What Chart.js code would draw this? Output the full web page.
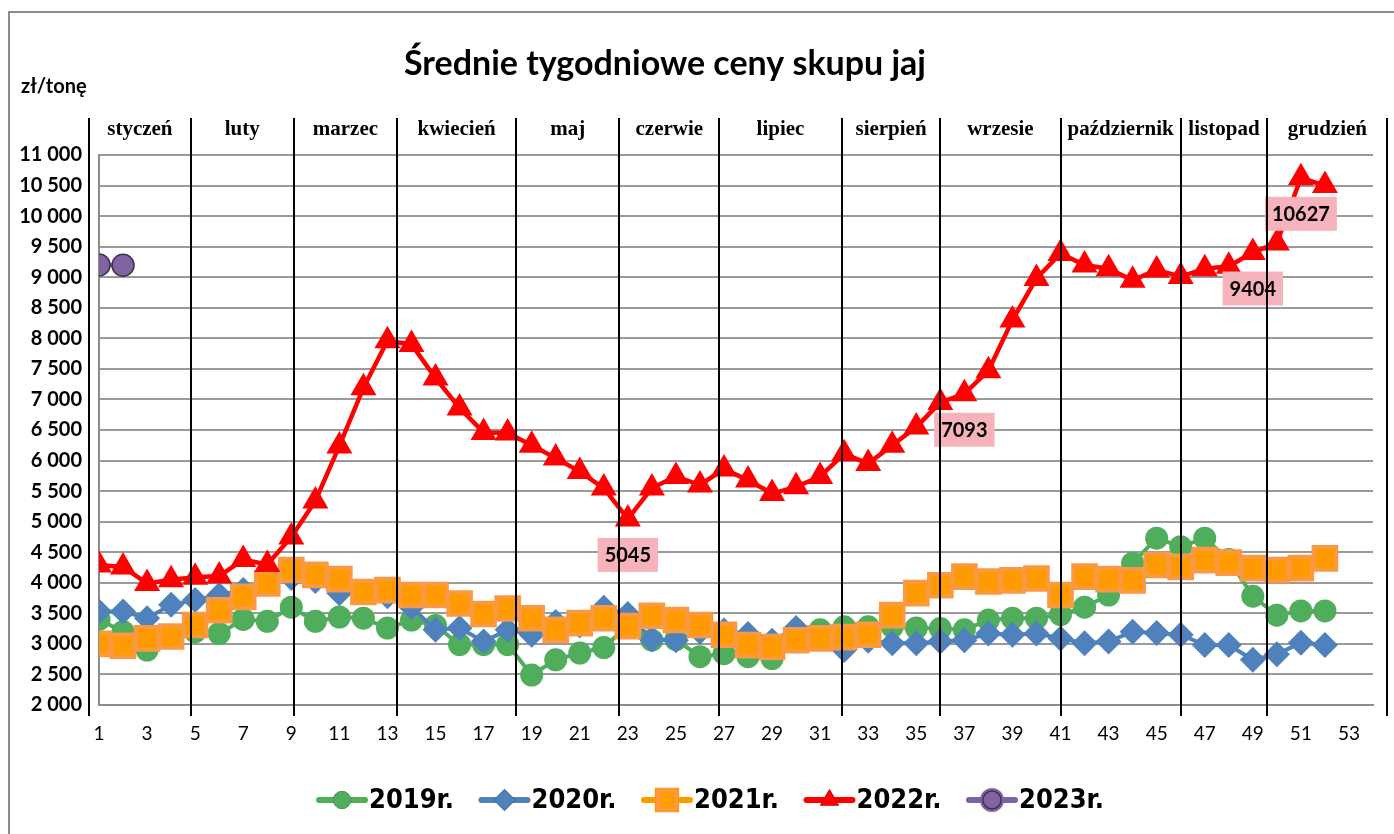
<!DOCTYPE html>
<html lang="pl">
<head>
<meta charset="utf-8">
<title>Średnie tygodniowe ceny skupu jaj</title>
<script src="https://cdn.jsdelivr.net/npm/chart.js@4.4.1/dist/chart.umd.min.js"></script>
<style>
  html, body { margin: 0; padding: 0; background: #fff; overflow: hidden; }
  #wrap { position: relative; width: 1394px; height: 834px; }
</style>
</head>
<body>
<div id="wrap"><canvas id="eggChart" width="1394" height="834"></canvas></div>
<script>
const weeks = [1, 2, 3, 4, 5, 6, 7, 8, 9, 10, 11, 12, 13, 14, 15, 16, 17, 18, 19, 20, 21, 22, 23, 24, 25, 26,
  27, 28, 29, 30, 31, 32, 33, 34, 35, 36, 37, 38, 39, 40, 41, 42, 43, 44, 45, 46, 47, 48, 49, 50, 51, 52];
const weekTicks = [1, 3, 5, 7, 9, 11, 13, 15, 17, 19, 21, 23, 25, 27, 29, 31, 33, 35, 37, 39, 41, 43, 45, 47, 49, 51, 53];

const prices2019 = [3400, 3200, 2900, 3100, 3200, 3170, 3400, 3370, 3600, 3370, 3440, 3420, 3260,
  3390, 3300, 2990, 2990, 2990, 2490, 2740, 2850, 2940, 3300, 3060, 3070, 2790,
  2840, 2790, 2760, 3050, 3230, 3280, 3280, 3280, 3260, 3250, 3230, 3390, 3420,
  3420, 3480, 3600, 3800, 4320, 4730, 4590, 4730, 4380, 3780, 3470, 3540, 3540];
const prices2020 = [3530, 3530, 3420, 3640, 3720, 3800, 3880, 4000, 4080, 4030, 3830, 3850, 3780,
  3600, 3230, 3260, 3040, 3230, 3150, 3360, 3300, 3590, 3490, 3070, 3060, 3200,
  3220, 3160, 3050, 3260, 3100, 2900, 3050, 3010, 3010, 3040, 3060, 3170, 3150,
  3170, 3090, 3010, 3040, 3200, 3180, 3150, 2980, 2980, 2740, 2830, 3020, 2980];
const prices2021 = [3000, 2970, 3090, 3120, 3310, 3550, 3770, 3990, 4210, 4130, 4060, 3850, 3880,
  3800, 3800, 3660, 3490, 3580, 3420, 3230, 3340, 3420, 3290, 3460, 3390, 3310,
  3150, 2980, 2950, 3060, 3090, 3110, 3150, 3470, 3830, 3960, 4100, 4020, 4040,
  4070, 3800, 4100, 4060, 4040, 4290, 4260, 4370, 4330, 4240, 4210, 4240, 4400];
const prices2022 = [4290, 4260, 3990, 4050, 4090, 4110, 4380, 4300, 4750, 5340, 6240, 7190, 7960,
  7900, 7350, 6860, 6460, 6450, 6250, 6040, 5820, 5550, 5045, 5550, 5740, 5600,
  5860, 5680, 5460, 5570, 5740, 6110, 5950, 6250, 6550, 6950, 7093, 7470, 8300,
  8980, 9390, 9200, 9140, 8950, 9120, 9010, 9140, 9180, 9404, 9560, 10627, 10500];
const prices2023 = [9200, 9195];

const yearLabels = ["2019r.", "2020r.", "2021r.", "2022r.", "2023r."];
const labelledWeeks2022 = [23, 37, 49, 51];

const monthNames = ["styczeń", "luty", "marzec", "kwiecień", "maj", "czerwie", "lipiec",
  "sierpień", "wrzesie", "październik", "listopad", "grudzień"];
const monthEdges = [0.58, 4.82, 9.1, 13.4, 18.35, 22.65, 26.8, 31.9, 36.0, 41.0, 46.0, 49.6, 54.6];

const fmt = (v) => String(v).replace(/\B(?=(\d{3})+(?!\d))/g, " ");

const overlay = {
  id: "overlay",
  beforeDraw(chart) {
    const c = chart.ctx;
    c.save();
    c.strokeStyle = "#8c8c8c";
    c.lineWidth = 2;
    c.beginPath();
    c.moveTo(9, 834);
    c.lineTo(9, 12);
    c.lineTo(1394, 12);
    c.stroke();

    c.fillStyle = "#000";
    c.textAlign = "center";
    c.textBaseline = "middle";
    c.font = "bold 34px Lato, 'Open Sans', sans-serif";
    c.fillText("Średnie tygodniowe ceny skupu jaj", 665, 64);
    c.textAlign = "left";
    c.font = "bold 20px Lato, 'Open Sans', sans-serif";
    c.fillText("zł/tonę", 21, 87);
    c.restore();
  },
  afterDatasetsDraw(chart) {
    const c = chart.ctx;
    const xs = chart.scales.x;
    const meta = chart.getDatasetMeta(3);
    c.save();
    // data labels for 2022
    c.font = "bold 20px Lato, 'Open Sans', sans-serif";
    c.textAlign = "center";
    c.textBaseline = "middle";
    labelledWeeks2022.forEach((w) => {
      const i = weeks.indexOf(w);
      const pt = meta.data[i];
      const txt = String(prices2022[i]);
      const tw = c.measureText(txt).width + 14;
      const cy = pt.y + 36;
      c.fillStyle = "#f6b3bb";
      c.fillRect(pt.x - tw / 2, cy - 17, tw, 34);
      c.fillStyle = "#000";
      c.fillText(txt, pt.x, cy + 1);
    });
    // month separators
    c.strokeStyle = "#000";
    c.lineWidth = 2;
    monthEdges.forEach((e) => {
      const px = Math.round(xs.getPixelForValue(e));
      c.beginPath();
      c.moveTo(px, 118);
      c.lineTo(px, 716);
      c.stroke();
    });
    // month names
    c.font = "bold 21px 'Liberation Serif', 'DejaVu Serif', serif";
    monthNames.forEach((m, i) => {
      const a = xs.getPixelForValue(monthEdges[i]);
      const b = xs.getPixelForValue(monthEdges[i + 1]);
      c.fillText(m, (a + b) / 2, 130);
    });
    c.restore();
  },
  afterDraw(chart) {
    const c = chart.ctx;
    const cy = 800;
    const startX = 319;
    const pitch = 162.5;
    c.save();
    chart.data.datasets.forEach((ds, i) => {
      const x0 = startX + i * pitch;
      c.strokeStyle = ds.borderColor;
      c.lineWidth = 6;
      c.lineCap = "round";
      c.beginPath();
      c.moveTo(x0, cy);
      c.lineTo(x0 + 46, cy);
      c.stroke();
      Chart.helpers.drawPoint(c, {
        pointStyle: ds.pointStyle,
        radius: ds.legendRadius,
        rotation: 0,
        borderWidth: ds.pointBorderWidth
      }, x0 + 23, cy);
      c.fillStyle = ds.pointBackgroundColor;
      c.strokeStyle = ds.pointBorderColor;
      c.lineWidth = ds.pointBorderWidth;
      c.fill();
      if (ds.pointBorderWidth > 0) c.stroke();
      c.fillStyle = "#000";
      c.textAlign = "left";
      c.textBaseline = "middle";
      c.font = "bold 27px 'Liberation Sans Narrow', 'DejaVu Sans Condensed', sans-serif";
      c.fillText(ds.label, x0 + 50, cy + 1);
    });
    c.restore();
  }
};

const ctx = document.getElementById("eggChart");

new Chart(ctx, {
  type: "line",
  data: {
    labels: weeks,
    datasets: [
      {
        label: yearLabels[0],
        data: prices2019,
        borderColor: "#4fad5b",
        borderWidth: 4,
        pointStyle: "circle",
        pointRadius: 11.5,
        legendRadius: 9,
        pointBackgroundColor: "#4fad5b",
        pointBorderColor: "#4fad5b",
        pointBorderWidth: 0,
        order: 5
      },
      {
        label: yearLabels[1],
        data: prices2020,
        borderColor: "#4f81bd",
        borderWidth: 4,
        pointStyle: "rectRot",
        pointRadius: 13,
        legendRadius: 11,
        pointBackgroundColor: "#4f81bd",
        pointBorderColor: "#4f81bd",
        pointBorderWidth: 0,
        order: 4
      },
      {
        label: yearLabels[2],
        data: prices2021,
        borderColor: "#ff9a00",
        borderWidth: 4,
        pointStyle: "rect",
        pointRadius: 16,
        legendRadius: 13,
        pointBackgroundColor: "#ff9a00",
        pointBorderColor: "#f99a42",
        pointBorderWidth: 4,
        order: 3
      },
      {
        label: yearLabels[3],
        data: prices2022,
        borderColor: "#ff0000",
        borderWidth: 4.5,
        pointStyle: "triangle",
        pointRadius: 15,
        legendRadius: 11,
        pointBackgroundColor: "#ff0000",
        pointBorderColor: "#ff0000",
        pointBorderWidth: 0,
        order: 2
      },
      {
        label: yearLabels[4],
        data: prices2023,
        borderColor: "#8064a2",
        borderWidth: 4,
        pointStyle: "circle",
        pointRadius: 11,
        legendRadius: 9,
        pointBackgroundColor: "#8064a2",
        pointBorderColor: "#3f3151",
        pointBorderWidth: 1.5,
        order: 1
      }
    ]
  },
  options: {
    responsive: false,
    animation: false,
    layout: {
      padding: { left: 0, top: 155, right: 21, bottom: 89 }
    },
    plugins: {
      legend: { display: false },
      title: { display: false },
      tooltip: { enabled: false }
    },
    elements: {
      line: { tension: 0 }
    },
    scales: {
      x: {
        type: "linear",
        min: 1,
        max: 54,
        afterBuildTicks: (axis) => {
          axis.ticks = weekTicks.map((v) => ({ value: v }));
        },
        afterFit: (scale) => { scale.height = 40; },
        ticks: {
          autoSkip: false,
          maxRotation: 0,
          color: "#000",
          padding: 17,
          font: { family: "Lato, 'Open Sans', sans-serif", size: 19 }
        },
        grid: { display: false, drawTicks: false },
        border: { color: "#8c8c8c", width: 2 }
      },
      y: {
        min: 2000,
        max: 11000,
        afterFit: (scale) => { scale.width = 99; },
        ticks: {
          stepSize: 500,
          color: "#000",
          padding: 17,
          callback: (v) => fmt(v),
          font: { family: "Lato, 'Open Sans', sans-serif", size: 20, weight: "bold" }
        },
        grid: { color: "#9a9a9a", lineWidth: 2, drawTicks: false },
        border: { color: "#8c8c8c", width: 2 }
      }
    }
  },
  plugins: [overlay]
});
</script>
</body>
</html>
